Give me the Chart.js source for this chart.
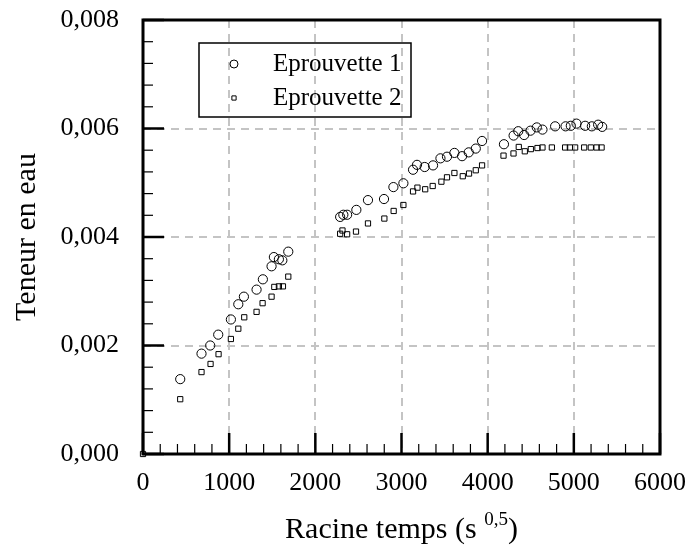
<!DOCTYPE html>
<html>
<head>
<meta charset="utf-8">
<script src="https://cdn.jsdelivr.net/npm/chart.js@4.4.0/dist/chart.umd.min.js"></script>
<style>
  html, body { margin: 0; padding: 0; background: #fff; }
  #wrap { width: 688px; height: 552px; }
</style>
</head>
<body>
<div id="wrap"><canvas id="c" width="688" height="552"></canvas></div>
<script>
// values
const eprouvette1X = [432, 679, 780, 873, 1020, 1106, 1171, 1318, 1391, 1492, 1519, 1577, 1617, 1686,
  2288, 2325, 2369, 2476, 2611, 2797, 2906, 3022, 3134, 3180, 3269, 3366, 3452, 3528, 3614, 3703, 3780, 3862, 3935,
  4189, 4301, 4355, 4423, 4497, 4570, 4636, 4783, 4904, 4965, 5031, 5131, 5209, 5282, 5329];
const eprouvette1Y = [0.00138, 0.00185, 0.00200, 0.00220, 0.00248, 0.00276, 0.00290, 0.00303, 0.00322, 0.00346, 0.00363, 0.00359, 0.00357, 0.00373,
  0.00437, 0.00441, 0.00441, 0.00450, 0.00468, 0.00470, 0.00492, 0.00499, 0.00524, 0.00533, 0.00529, 0.00532, 0.00545, 0.00548, 0.00555, 0.00549, 0.00556, 0.00563, 0.00577,
  0.00571, 0.00587, 0.00595, 0.00588, 0.00596, 0.00602, 0.00598, 0.00604, 0.00604, 0.00605, 0.00609, 0.00605, 0.00604, 0.00607, 0.00603];

const eprouvette2X = [0, 432, 679, 784, 877, 1020, 1106, 1175, 1318, 1388, 1492, 1524, 1577, 1624, 1686,
  2288, 2315, 2369, 2472, 2611, 2801, 2909, 3022, 3134, 3185, 3275, 3362, 3463, 3528, 3614, 3711, 3784, 3862, 3935,
  4184, 4300, 4361, 4431, 4501, 4578, 4636, 4745, 4899, 4954, 5015, 5120, 5197, 5264, 5322];
const eprouvette2Y = [0, 0.00101, 0.00151, 0.00166, 0.00184, 0.00212, 0.00231, 0.00252, 0.00262, 0.00278, 0.00290, 0.00308, 0.00309, 0.00309, 0.00327,
  0.00406, 0.00412, 0.00405, 0.00410, 0.00425, 0.00434, 0.00448, 0.00459, 0.00484, 0.00491, 0.00488, 0.00494, 0.00502, 0.00510, 0.00518, 0.00512, 0.00517, 0.00523, 0.00532,
  0.00550, 0.00554, 0.00566, 0.00558, 0.00562, 0.00564, 0.00565, 0.00565, 0.00565, 0.00565, 0.00565, 0.00565, 0.00565, 0.00565, 0.00565];

const seriesLabels = ['Eprouvette 1', 'Eprouvette 2'];
const xTickLabels = ['0', '1000', '2000', '3000', '4000', '5000', '6000'];
const yTickLabels = ['0,000', '0,002', '0,004', '0,006', '0,008'];
const xTitle = 'Racine temps (s ';
const xTitleExp = '0,5';
const yTitle = 'Teneur en eau';

const SERIF = '"Liberation Serif", "Times New Roman", serif';

function toPoints(xs, ys) {
  return xs.map((x, i) => ({ x: x, y: ys[i] }));
}

// frame, inner ticks, legend box and axis titles
const framePlugin = {
  id: 'frame',
  afterDraw(chart) {
    const ctx = chart.ctx;
    const a = chart.chartArea;
    const xs = chart.scales.x;
    const ys = chart.scales.y;
    ctx.save();

    // minor / major ticks pointing inside
    ctx.strokeStyle = '#000';
    for (let v = 0; v <= 6000; v += 200) {
      const px = xs.getPixelForValue(v);
      const major = v % 1000 === 0;
      ctx.lineWidth = major ? 2.5 : 1.2;
      ctx.beginPath();
      ctx.moveTo(px, a.bottom);
      ctx.lineTo(px, a.bottom - (major ? 21 : 10));
      ctx.stroke();
    }
    for (let k = 0; k <= 20; k++) {
      const py = ys.getPixelForValue(k * 0.0004);
      const major = k % 5 === 0;
      ctx.lineWidth = major ? 2.5 : 1.2;
      ctx.beginPath();
      ctx.moveTo(a.left, py);
      ctx.lineTo(a.left + (major ? 21 : 10), py);
      ctx.stroke();
    }

    // thick frame
    ctx.lineWidth = 3;
    ctx.strokeRect(a.left, a.top, a.right - a.left, a.bottom - a.top);

    // legend
    ctx.lineWidth = 1.5;
    ctx.strokeRect(199, 43, 212, 74);
    ctx.font = '25px ' + SERIF;
    ctx.textBaseline = 'middle';
    ctx.textAlign = 'left';
    chart.data.datasets.forEach((ds, i) => {
      const y = 64 + i * 34;
      ctx.fillStyle = 'rgba(0,0,0,0)';
      ctx.strokeStyle = '#000';
      ctx.lineWidth = 1;
      Chart.helpers.drawPoint(ctx, {
        pointStyle: ds.pointStyle,
        radius: ds.pointStyle === 'rect' ? 3 : 4,
        borderWidth: 1
      }, 234, y);
      ctx.fillStyle = '#000';
      ctx.fillText(seriesLabels[i], 273, y);
    });

    // x title with superscript
    ctx.fillStyle = '#000';
    ctx.font = '30px ' + SERIF;
    ctx.textBaseline = 'alphabetic';
    const w1 = ctx.measureText(xTitle).width;
    ctx.font = '19px ' + SERIF;
    const w2 = ctx.measureText(xTitleExp).width;
    ctx.font = '30px ' + SERIF;
    const w3 = ctx.measureText(')').width;
    let x0 = (a.left + a.right) / 2 - (w1 + w2 + w3) / 2;
    const base = 538;
    ctx.fillText(xTitle, x0, base);
    ctx.font = '19px ' + SERIF;
    ctx.fillText(xTitleExp, x0 + w1, base - 13);
    ctx.font = '30px ' + SERIF;
    ctx.fillText(')', x0 + w1 + w2, base);

    // y title
    ctx.translate(35, (a.top + a.bottom) / 2);
    ctx.rotate(-Math.PI / 2);
    ctx.textAlign = 'center';
    ctx.fillText(yTitle, 0, 0);
    ctx.restore();
  }
};

const gridColor = (ctx) => {
  const v = ctx.tick ? ctx.tick.value : 0;
  return (v === ctx.scale.min || v === ctx.scale.max) ? 'rgba(0,0,0,0)' : '#c4c4c4';
};

new Chart(document.getElementById('c'), {
  type: 'scatter',
  data: {
    datasets: [
      {
        label: seriesLabels[0],
        data: toPoints(eprouvette1X, eprouvette1Y),
        pointStyle: 'circle',
        pointRadius: 4.6,
        pointBorderWidth: 1,
        borderColor: '#000',
        backgroundColor: 'rgba(0,0,0,0)'
      },
      {
        label: seriesLabels[1],
        data: toPoints(eprouvette2X, eprouvette2Y),
        pointStyle: 'rect',
        pointRadius: 3.7,
        pointBorderWidth: 1,
        borderColor: '#000',
        backgroundColor: 'rgba(0,0,0,0)'
      }
    ]
  },
  options: {
    responsive: false,
    animation: false,
    devicePixelRatio: 1,
    clip: false,
    layout: { padding: { top: 20, right: 28, left: 0, bottom: 0 } },
    plugins: { legend: { display: false }, tooltip: { enabled: false } },
    scales: {
      x: {
        type: 'linear',
        min: 0,
        max: 6000,
        afterFit: (s) => {
          s.height = 98;
          s.paddingLeft = 0; s.paddingRight = 0;
        },
        ticks: {
          stepSize: 1000,
          maxRotation: 0,
          padding: 14,
          color: '#000',
          font: { family: SERIF, size: 26 },
          callback: (v, i) => xTickLabels[i]
        },
        grid: { color: gridColor, lineWidth: 2, drawTicks: false },
        border: { display: false, dash: [8, 6] }
      },
      y: {
        min: 0,
        max: 0.008,
        afterFit: (s) => {
          s.width = 143;
          s.paddingTop = 0; s.paddingBottom = 0;
        },
        ticks: {
          stepSize: 0.002,
          padding: 24,
          color: '#000',
          font: { family: SERIF, size: 26 },
          callback: (v, i) => yTickLabels[i]
        },
        grid: { color: gridColor, lineWidth: 2, drawTicks: false },
        border: { display: false, dash: [8, 6] }
      }
    }
  },
  plugins: [framePlugin]
});
</script>
</body>
</html>
